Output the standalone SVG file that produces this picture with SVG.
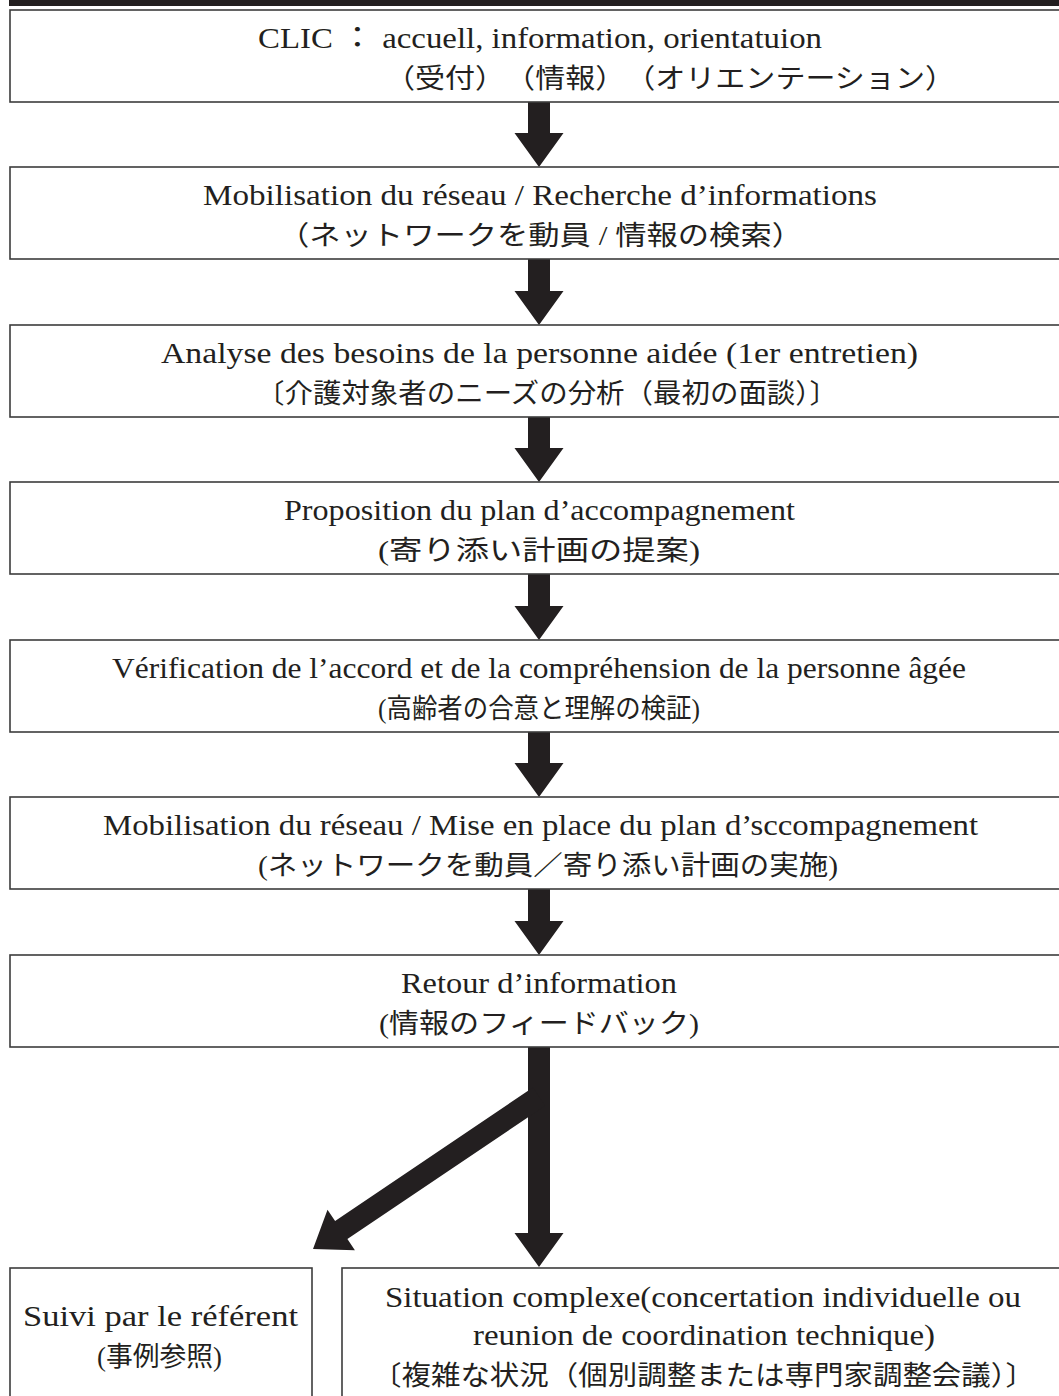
<svg xmlns="http://www.w3.org/2000/svg" width="1059" height="1396" viewBox="0 0 1059 1396">
<style>
.box{fill:#fff;stroke:#3c3c3c;stroke-width:1.6}
.lt{font-family:"Liberation Serif","Noto Sans CJK JP",serif;font-size:29px;fill:#231f20;text-anchor:middle}
.jp{font-family:"Liberation Serif","Noto Sans CJK JP",serif;font-size:27px;fill:#231f20;text-anchor:middle}
.arr{fill:#231f20;stroke:none}
</style>
<rect x="0" y="0" width="1059" height="1396" fill="#fff"/>
<rect x="9" y="0" width="1050" height="6" fill="#231f20"/>

<g id="connectors">
<path class="arr" d="M528,102 L550,102 L550,133 L563.5,133 L539,167 L514.5,133 L528,133 Z"/>
<path class="arr" d="M528,259 L550,259 L550,291 L563.5,291 L539,325 L514.5,291 L528,291 Z"/>
<path class="arr" d="M528,417 L550,417 L550,448 L563.5,448 L539,482 L514.5,448 L528,448 Z"/>
<path class="arr" d="M528,574 L550,574 L550,606 L563.5,606 L539,640 L514.5,606 L528,606 Z"/>
<path class="arr" d="M528,732 L550,732 L550,763 L563.5,763 L539,797 L514.5,763 L528,763 Z"/>
<path class="arr" d="M528,889 L550,889 L550,921 L563.5,921 L539,955 L514.5,921 L528,921 Z"/>
<path class="arr" d="M528,1047 L550,1047 L550,1233 L563.5,1233 L539,1267 L514.5,1233 L528,1233 Z"/>
<path class="arr" d="M532.9,1087.5 L335.1,1220.9 L327.5,1209.7 L313,1249 L354.9,1250.3 L347.4,1239.1 L545.2,1105.7 Z"/>
</g>

<g id="n1">
<rect class="box" x="10" y="10" width="1070" height="92"/>
<text class="lt" x="540" y="48" textLength="564" lengthAdjust="spacingAndGlyphs">CLIC ： accuell, information, orientatuion</text>
<text class="jp" x="670" y="88" textLength="570" lengthAdjust="spacingAndGlyphs">（受付）　（情報）　（オリエンテーション）</text>
</g>
<g id="n2">
<rect class="box" x="10" y="167" width="1070" height="92"/>
<text class="lt" x="540" y="205" textLength="674" lengthAdjust="spacingAndGlyphs">Mobilisation du réseau / Recherche d’informations</text>
<text class="jp" x="540.5" y="245" textLength="525" lengthAdjust="spacingAndGlyphs">（ネットワークを動員 / 情報の検索）</text>
</g>
<g id="n3">
<rect class="box" x="10" y="325" width="1070" height="92"/>
<text class="lt" x="539.5" y="363" textLength="757" lengthAdjust="spacingAndGlyphs">Analyse des besoins de la personne aidée (1er entretien)</text>
<text class="jp" x="547" y="403" textLength="582" lengthAdjust="spacingAndGlyphs">〔介護対象者のニーズの分析（最初の面談）〕</text>
</g>
<g id="n4">
<rect class="box" x="10" y="482" width="1070" height="92"/>
<text class="lt" x="539.5" y="520" textLength="511" lengthAdjust="spacingAndGlyphs">Proposition du plan d’accompagnement</text>
<text class="jp" x="539" y="560" textLength="322" lengthAdjust="spacingAndGlyphs">(寄り添い計画の提案)</text>
</g>
<g id="n5">
<rect class="box" x="10" y="640" width="1070" height="92"/>
<text class="lt" x="539" y="678" textLength="854" lengthAdjust="spacingAndGlyphs">Vérification de l’accord et de la compréhension de la personne âgée</text>
<text class="jp" x="539" y="718" textLength="322" lengthAdjust="spacingAndGlyphs">(高齢者の合意と理解の検証)</text>
</g>
<g id="n6">
<rect class="box" x="10" y="797" width="1070" height="92"/>
<text class="lt" x="540.5" y="835" textLength="875" lengthAdjust="spacingAndGlyphs">Mobilisation du réseau / Mise en place du plan d’sccompagnement</text>
<text class="jp" x="548" y="875" textLength="580" lengthAdjust="spacingAndGlyphs">(ネットワークを動員／寄り添い計画の実施)</text>
</g>
<g id="n7">
<rect class="box" x="10" y="955" width="1070" height="92"/>
<text class="lt" x="539" y="993" textLength="276" lengthAdjust="spacingAndGlyphs">Retour d’information</text>
<text class="jp" x="539" y="1033" textLength="320" lengthAdjust="spacingAndGlyphs">(情報のフィードバック)</text>
</g>
<g id="n8">
<rect class="box" x="10" y="1268" width="302" height="140"/>
<text class="lt" x="160.5" y="1326" textLength="275" lengthAdjust="spacingAndGlyphs">Suivi par le référent</text>
<text class="jp" x="159.5" y="1366" textLength="125" lengthAdjust="spacingAndGlyphs">(事例参照)</text>
</g>
<g id="n9">
<rect class="box" x="342" y="1268" width="740" height="140"/>
<text class="lt" x="703" y="1307" textLength="636" lengthAdjust="spacingAndGlyphs">Situation complexe(concertation individuelle ou</text>
<text class="lt" x="704" y="1345" textLength="462" lengthAdjust="spacingAndGlyphs">reunion de coordination technique)</text>
<text class="jp" x="703.5" y="1385" textLength="663" lengthAdjust="spacingAndGlyphs">〔複雑な状況（個別調整または専門家調整会議）〕</text>
</g>
</svg>
